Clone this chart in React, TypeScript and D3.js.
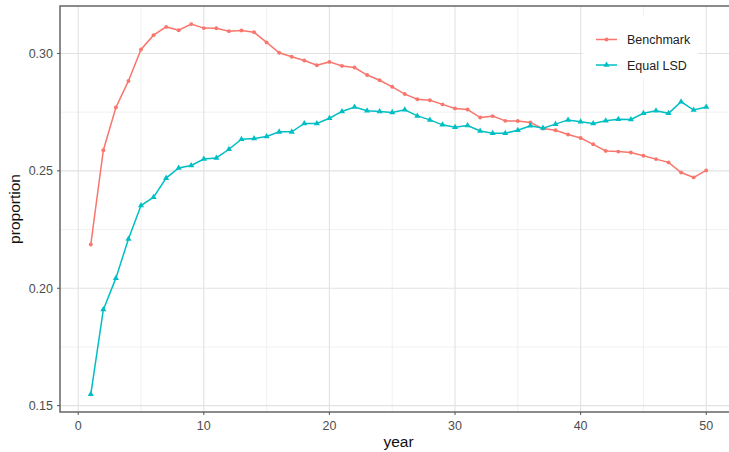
import React from 'react';
import * as d3 from 'd3';

const years = d3.range(1, 51);

const benchmark = [
  0.2186, 0.2588, 0.2770, 0.2883, 0.3017, 0.3078, 0.3113, 0.3099, 0.3125, 0.3108,
  0.3107, 0.3095, 0.3098, 0.3090, 0.3047, 0.3003, 0.2986, 0.2970, 0.2950, 0.2964,
  0.2947, 0.2940, 0.2908, 0.2886, 0.2858, 0.2827, 0.2805, 0.2801, 0.2783, 0.2766,
  0.2761, 0.2727, 0.2733, 0.2713, 0.2712, 0.2706, 0.2680, 0.2673, 0.2655, 0.2640,
  0.2613, 0.2585, 0.2582, 0.2578, 0.2564, 0.2550, 0.2536, 0.2493, 0.2472, 0.2502,
];

const equalLSD = [
  0.1548, 0.1909, 0.2043, 0.2210, 0.2352, 0.2388, 0.2469, 0.2512, 0.2523, 0.2550,
  0.2555, 0.2592, 0.2635, 0.2638, 0.2646, 0.2666, 0.2666, 0.2702, 0.2702, 0.2724,
  0.2753, 0.2772, 0.2756, 0.2753, 0.2749, 0.2760, 0.2734, 0.2717, 0.2696, 0.2686,
  0.2693, 0.2670, 0.2660, 0.2660, 0.2673, 0.2692, 0.2682, 0.2699, 0.2717, 0.2709,
  0.2702, 0.2713, 0.2720, 0.2719, 0.2745, 0.2756, 0.2745, 0.2794, 0.2759, 0.2772,
];

const xTicks = [0, 10, 20, 30, 40, 50];
const xMinor = [5, 15, 25, 35, 45];
const yTicks = [0.15, 0.2, 0.25, 0.3];
const yMinor = [0.175, 0.225, 0.275];

const series = [
  { name: 'Benchmark', values: benchmark, color: '#F8766D', shape: 'circle' },
  { name: 'Equal LSD', values: equalLSD, color: '#00BFC4', shape: 'triangle' },
];

const W = 729;
const H = 452;
const left = 60;
const top = 6;
const right = 737;
const bottom = 412;

export default function App() {
  const x = d3.scaleLinear().domain([-1.45, 52.45]).range([left, right]);
  const y = d3.scaleLinear().domain([0.14729, 0.32021]).range([bottom, top]);

  const line = d3.line<number>()
    .x((_, i) => x(years[i]))
    .y(d => y(d));

  const tri = d3.symbol().type(d3.symbolTriangle).size(16)();
  const circ = d3.symbol().type(d3.symbolCircle).size(12)();

  const font = '"Liberation Sans", Arial, sans-serif';

  return (
    <svg width={W} height={H} style={{ position: 'absolute', left: 0, top: 0, background: '#fff' }}>
      <rect x={0} y={0} width={W} height={H} fill="#fff" />
      <g>
        {xMinor.map(t => (
          <line key={'xm' + t} x1={x(t)} x2={x(t)} y1={top} y2={bottom} stroke="#eeeeee" strokeWidth={0.8} />
        ))}
        {yMinor.map(t => (
          <line key={'ym' + t} x1={left} x2={right} y1={y(t)} y2={y(t)} stroke="#eeeeee" strokeWidth={0.8} />
        ))}
        {xTicks.map(t => (
          <line key={'xg' + t} x1={x(t)} x2={x(t)} y1={top} y2={bottom} stroke="#e2e2e2" strokeWidth={1.1} />
        ))}
        {yTicks.map(t => (
          <line key={'yg' + t} x1={left} x2={right} y1={y(t)} y2={y(t)} stroke="#e2e2e2" strokeWidth={1.1} />
        ))}
      </g>
      {series.map(s => (
        <g key={s.name}>
          <path d={line(s.values) || ''} fill="none" stroke={s.color} strokeWidth={1.5} />
          {s.values.map((v, i) => (
            <path
              key={i}
              d={s.shape === 'circle' ? circ || '' : tri || ''}
              transform={`translate(${x(years[i])},${y(v)})`}
              fill={s.color}
            />
          ))}
        </g>
      ))}
      <rect x={left} y={top} width={right - left} height={bottom - top} fill="none" stroke="#666" strokeWidth={1.5} />
      {xTicks.map(t => (
        <g key={'xt' + t}>
          <line x1={x(t)} x2={x(t)} y1={bottom} y2={bottom + 3} stroke="#555" strokeWidth={1} />
          <text x={x(t)} y={429.5} textAnchor="middle" fontSize={12.5} fill="#4d4d4d" fontFamily={font}>
            {t}
          </text>
        </g>
      ))}
      {yTicks.map(t => (
        <g key={'yt' + t}>
          <line x1={left - 3} x2={left} y1={y(t)} y2={y(t)} stroke="#555" strokeWidth={1} />
          <text x={53} y={y(t) + 4.5} textAnchor="end" fontSize={12.5} fill="#4d4d4d" fontFamily={font}>
            {d3.format('.2f')(t)}
          </text>
        </g>
      ))}
      <text x={(left + right) / 2} y={447} textAnchor="middle" fontSize={15.5} fill="#111" fontFamily={font}>
        year
      </text>
      <text
        transform={`translate(19.5,${(top + bottom) / 2}) rotate(-90)`}
        textAnchor="middle"
        fontSize={15.5}
        fill="#111"
        fontFamily={font}
      >
        proportion
      </text>
      <g>
        <rect x={583} y={16} width={115} height={62} fill="#fff" />
        {series.map((s, i) => {
          const ly = 39.5 + i * 25.5;
          return (
            <g key={'lg' + s.name}>
              <line x1={596} x2={617} y1={ly} y2={ly} stroke={s.color} strokeWidth={1.5} />
              <path d={s.shape === 'circle' ? circ || '' : tri || ''} transform={`translate(606.5,${ly})`} fill={s.color} />
              <text x={627} y={ly + 4.5} fontSize={12.5} fill="#222" fontFamily={font}>
                {s.name}
              </text>
            </g>
          );
        })}
      </g>
    </svg>
  );
}
